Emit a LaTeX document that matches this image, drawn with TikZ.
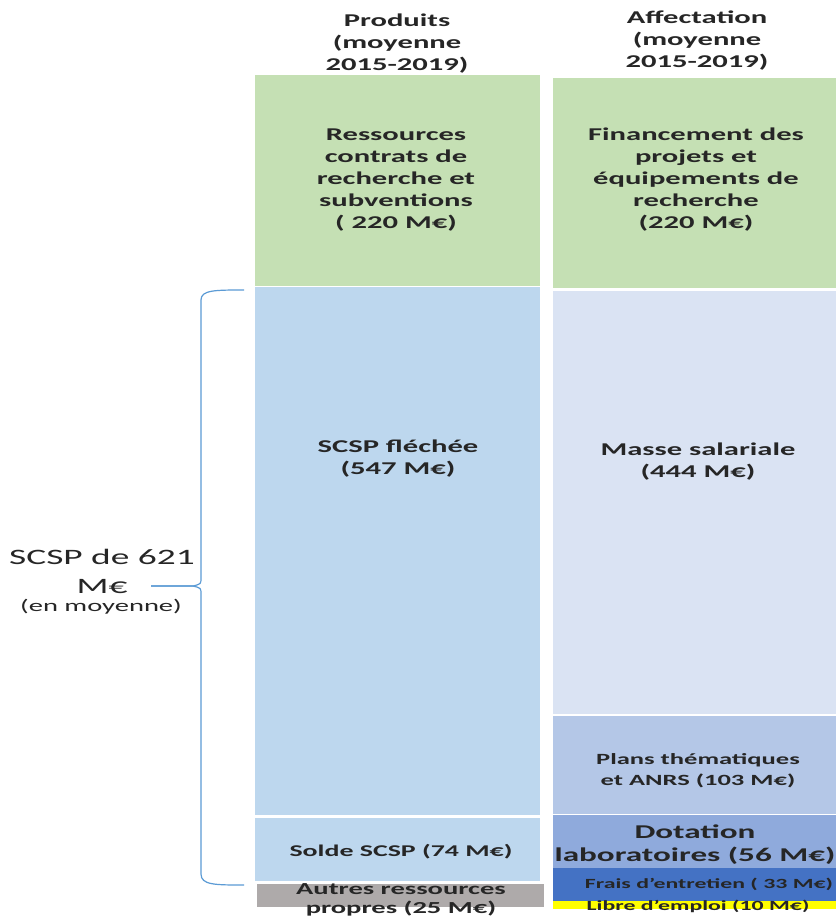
\documentclass[tikz,border=0pt]{standalone}
\usepackage{fontspec}
\setmainfont{Carlito}[FakeStretch=1.7]
\usetikzlibrary{positioning}
\definecolor{cgreen}{HTML}{C5E0B4}
\definecolor{cblue}{HTML}{BDD7EE}
\definecolor{cmasse}{HTML}{DAE3F3}
\definecolor{cplans}{HTML}{B4C7E7}
\definecolor{cdot}{HTML}{8FAADC}
\definecolor{cfrais}{HTML}{4472C4}
\definecolor{cyel}{HTML}{FFFF00}
\definecolor{cgrey}{HTML}{AEAAAA}
\definecolor{cbrace}{HTML}{5B9BD5}
\definecolor{ctext}{HTML}{262626}
\tikzset{
  box/.style={draw=none, anchor=north west, inner sep=0pt, outer sep=0pt},
  lbl/.style={text=ctext, font=\fontsize{18}{22}\selectfont\bfseries, align=center, inner sep=0pt},
  sml/.style={text=ctext, font=\fontsize{14}{17}\selectfont\bfseries, align=center, inner sep=0pt},
}
\begin{document}
\begin{tikzpicture}[x=1pt,y=-1pt]
\useasboundingbox[fill=white] (0,0) rectangle (836,918);
% left column
\node[box, fill=cgreen, minimum width=285pt, minimum height=211pt] (lg) at (255,75) {};
\node[box, fill=cblue, minimum width=285pt, minimum height=528pt] (lb) at (255,287) {};
\node[box, fill=cblue, minimum width=285pt, minimum height=63pt] (ls) at (255,818) {};
\node[box, fill=cgrey, minimum width=287pt, minimum height=23pt] (la) at (257,884) {};
% right column
\node[box, fill=cgreen, minimum width=283pt, minimum height=210pt] (rg) at (553,78) {};
\node[box, fill=cmasse, minimum width=283pt, minimum height=423pt] (rm) at (553,291) {};
\node[box, fill=cplans, minimum width=283pt, minimum height=98pt] (rp) at (553,716) {};
\node[box, fill=cdot, minimum width=283pt, minimum height=53pt] (rd) at (553,815) {};
\node[box, fill=cfrais, minimum width=283pt, minimum height=33pt] (rf) at (553,868) {};
\node[box, fill=cyel, minimum width=283pt, minimum height=8pt] (ry) at (553,901) {};
% headers
\node[lbl] (hp) at (397,44) {Produits\\(moyenne\\2015-2019)};
\node[lbl] (ha) at (697,41) {Affectation\\(moyenne\\2015-2019)};
% texts
\node[lbl] (tlg) at (396,180) {Ressources\\contrats de\\recherche et\\subventions\\( 220 M€)};
\node[lbl] (trg) at (696,180) {Financement des\\projets et\\équipements de\\recherche\\(220 M€)};
\node[lbl] (tlb) at (398,459) {SCSP fléchée\\(547 M€)};
\node[lbl] (trm) at (698,462) {Masse salariale\\(444 M€)};
\node[sml, font=\fontsize{15.6}{21}\selectfont\bfseries] (trp) at (698,771) {Plans thématiques\\et ANRS (103 M€)};
\node[lbl, font=\fontsize{19.5}{23}\selectfont\bfseries] (trd) at (695,845) {Dotation\\laboratoires (56 M€)};
\node[sml] (trf) at (709,884) {Frais d’entretien ( 33 M€)};
\node[sml] (try) at (698,906) {Libre d’emploi (10 M€)};
\node[lbl, font=\fontsize{16.4}{21}\selectfont\bfseries] (tls) at (401,852) {Solde SCSP (74 M€)};
\node[lbl, font=\fontsize{16.8}{19}\selectfont\bfseries] (tla) at (401,900) {Autres ressources\\propres (25 M€)};
% brace
\coordinate (bt) at (244,290);
\coordinate (bb) at (244,885);
\coordinate (btip) at (151,586);
\draw[cbrace, line width=1.2pt] (bt) .. controls (215,290) and (201,290) .. (201,300)
  -- (201,578) .. controls (201,584) .. (193,586) -- (btip);
\draw[cbrace, line width=1.2pt] (btip) -- (193,586) .. controls (201,588) .. (201,594)
  -- (201,874) .. controls (201,885) and (215,885) .. (bb);
\node[text=ctext, font=\fontsize{22}{29}\selectfont, align=center, inner sep=0pt] (scsp) at (102,571) {SCSP de 621\\M€};
\node[text=ctext, font=\fontsize{16.8}{18}\selectfont, inner sep=0pt] (enm) at (101,607) {(en moyenne)};
\end{tikzpicture}
\end{document}
